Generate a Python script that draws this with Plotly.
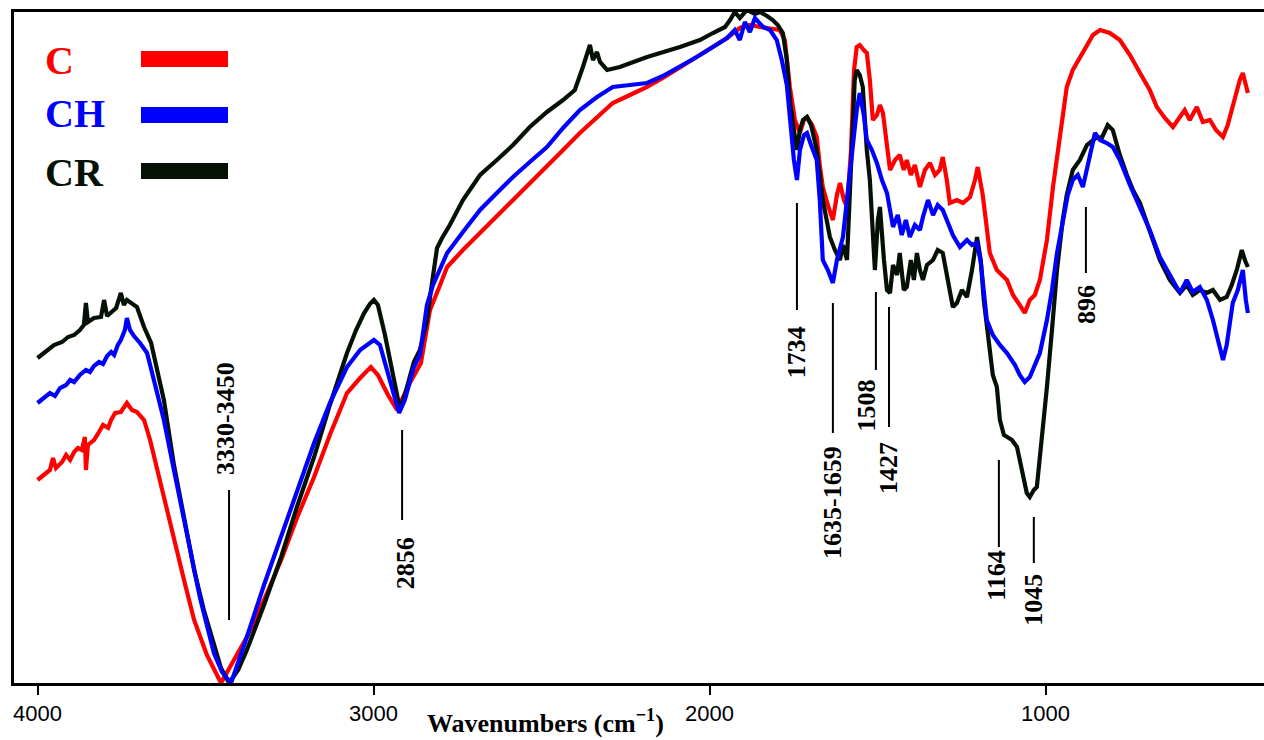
import plotly.graph_objects as go

# ---------------- data (wavenumber, cm-1 ; transmittance, a.u.) ----------------
wn_CR = [4000,3978,3951,3927,3909,3891,3874,3862,3856,3850,
         3832,3811,3802,3793,3781,3766,3752,3743,3734,3719,
         3704,3683,3662,3644,3624,3594,3564,3534,3505,3475,
         3454,3430,3403,3377,3326,3275,3228,3177,3130,3079,
         3052,3028,3011,2999,2987,2966,2945,2921,2907,2892,
         2880,2862,2841,2829,2811,2796,2773,2734,2683,2633,
         2585,2535,2484,2436,2401,2377,2362,2356,2347,2335,
         2326,2305,2267,2186,2088,2029,1990,1954,1939,1925,
         1910,1889,1865,1850,1829,1812,1797,1782,1770,1761,
         1749,1740,1731,1722,1710,1698,1681,1663,1642,1627,
         1612,1603,1591,1576,1568,1562,1553,1544,1532,1523,
         1514,1508,1499,1493,1481,1472,1463,1454,1442,1434,
         1422,1413,1401,1392,1383,1374,1365,1353,1335,1321,
         1306,1291,1276,1264,1249,1234,1219,1204,1193,1184,
         1175,1166,1157,1145,1136,1124,1115,1100,1085,1071,
         1056,1047,1035,1026,1011,996,981,966,949,937,
         919,898,877,859,847,833,815,800,779,758,
         740,719,690,660,630,600,580,562,541,520,
         502,481,461,446,431,416,407,398]
T_CR = [32.5,33.1,33.8,34.1,34.6,34.8,35.3,35.8,38.0,36.1,
        36.5,36.6,38.3,36.7,37.0,37.5,39.0,37.8,38.3,37.9,
        37.6,35.6,34.0,31.3,28.3,21.8,16.3,11.3,7.3,3.8,
        1.5,0.0,1.3,3.3,7.8,12.6,17.6,22.6,27.8,33.0,
        35.3,37.0,37.9,38.3,37.8,34.8,31.3,27.3,28.8,30.8,
        32.1,33.3,36.3,39.3,43.5,44.5,45.8,48.3,50.8,52.3,
        53.8,55.6,57.1,58.3,59.3,61.6,63.1,63.8,62.3,63.1,
        62.1,61.3,61.6,62.6,63.6,64.3,65.0,65.6,66.3,67.1,
        66.5,67.3,66.9,67.1,66.7,66.3,65.8,65.0,62.3,58.3,
        55.3,53.3,55.3,56.3,56.6,55.8,53.3,48.3,44.6,43.3,
        42.3,43.8,42.3,53.3,60.3,61.3,60.8,59.6,53.3,50.3,
        45.3,41.3,46.3,47.6,42.3,39.3,39.0,41.8,40.8,43.0,
        39.3,39.6,42.3,40.3,43.0,41.3,40.3,41.8,42.3,43.3,
        43.0,40.3,37.6,38.0,39.3,38.6,41.3,44.6,42.3,38.3,
        35.6,33.3,30.8,29.6,26.3,24.8,24.6,24.3,23.6,21.3,
        19.0,18.6,19.3,19.6,24.3,29.6,35.3,41.3,46.3,48.8,
        51.3,52.3,53.8,54.3,54.6,54.5,55.8,55.3,52.8,50.8,
        49.3,48.0,45.3,42.3,40.3,39.0,39.8,38.8,39.3,39.0,
        39.3,38.3,38.6,39.8,41.3,43.3,42.3,41.6]

wn_CH = [4000,3981,3963,3948,3933,3915,3903,3891,3874,3856,
         3844,3832,3817,3805,3793,3781,3772,3761,3752,3740,
         3734,3725,3713,3695,3674,3650,3624,3591,3555,3517,
         3475,3451,3424,3400,3377,3326,3275,3228,3177,3130,
         3079,3040,2999,2981,2957,2924,2907,2880,2862,2841,
         2823,2802,2781,2734,2683,2633,2585,2535,2484,2436,
         2386,2335,2288,2237,2186,2139,2088,2038,1990,1948,
         1925,1910,1895,1880,1865,1841,1820,1800,1785,1770,
         1761,1749,1740,1731,1719,1710,1698,1681,1672,1663,
         1648,1633,1621,1603,1588,1573,1562,1553,1541,1532,
         1517,1502,1487,1472,1454,1440,1428,1416,1404,1389,
         1374,1365,1350,1335,1321,1306,1291,1276,1255,1234,
         1219,1204,1193,1175,1157,1136,1115,1091,1077,1062,
         1047,1032,1017,996,981,966,949,934,919,904,
         889,874,853,838,818,800,779,749,719,690,
         660,630,600,580,562,541,520,502,487,472,
         461,443,428,413,404,398]
T_CH = [28.0,28.5,29.0,28.7,29.5,29.8,30.3,30.1,30.8,31.3,
        31.1,31.7,32.1,31.9,32.7,33.1,32.8,33.8,34.3,35.3,
        36.5,35.3,34.7,34.0,33.0,29.8,26.3,20.8,14.6,8.6,
        3.0,1.1,0.0,2.3,4.6,9.8,14.6,19.3,24.0,28.0,
        31.6,33.3,34.3,33.8,30.8,27.0,28.3,31.6,32.8,37.8,
        39.8,41.3,43.0,45.1,47.3,49.0,50.6,52.1,53.6,55.5,
        57.3,58.6,59.6,59.8,60.0,60.7,61.6,62.6,63.6,64.5,
        65.3,64.3,66.1,65.1,66.5,65.6,65.3,64.3,62.3,59.8,
        56.6,52.3,50.3,53.3,54.8,55.0,53.8,52.3,48.3,42.3,
        41.3,40.0,42.3,44.6,49.3,54.0,57.3,59.0,56.8,54.3,
        53.3,52.0,50.3,49.0,45.6,46.8,44.8,46.3,44.6,45.8,
        45.3,46.6,48.3,46.8,47.8,47.3,46.1,44.8,43.6,44.3,
        43.8,44.0,42.1,36.3,34.8,33.8,33.0,31.8,30.8,30.1,
        30.6,31.8,33.0,36.3,39.3,43.0,46.3,48.8,50.3,50.8,
        49.6,51.8,55.0,54.3,54.0,53.6,52.3,49.8,47.6,45.3,
        42.6,40.8,39.0,40.3,39.1,39.6,38.3,36.3,34.3,32.3,
        33.8,38.0,39.3,41.3,38.3,37.0]

wn_C = [4000,3981,3963,3954,3945,3927,3915,3903,3891,3880,
        3868,3859,3856,3850,3832,3817,3805,3790,3781,3769,
        3752,3734,3719,3704,3683,3665,3644,3621,3594,3564,
        3534,3496,3454,3415,3377,3326,3275,3228,3177,3130,
        3079,3040,3008,2987,2957,2930,2909,2892,2859,2832,
        2802,2781,2734,2683,2633,2585,2535,2484,2436,2386,
        2335,2288,2237,2186,2139,2088,2038,1990,1948,1910,
        1880,1850,1820,1791,1776,1761,1746,1731,1719,1710,
        1695,1681,1672,1663,1648,1633,1621,1612,1600,1591,
        1579,1570,1562,1553,1541,1532,1523,1514,1502,1493,
        1484,1472,1463,1448,1434,1422,1413,1401,1389,1374,
        1359,1344,1329,1315,1306,1294,1285,1264,1246,1225,
        1210,1202,1187,1166,1145,1115,1097,1077,1062,1047,
        1032,1017,996,978,958,937,919,898,877,859,
        838,809,779,749,719,690,669,645,621,600,
        586,571,550,532,511,493,472,458,443,431,
        422,413,404,398]
T_C = [20.3,20.8,21.3,22.5,21.5,22.1,22.8,22.3,23.1,23.5,
       23.3,24.6,21.3,23.8,24.3,25.1,25.8,25.5,26.3,27.0,
       27.1,28.0,27.3,27.1,26.3,24.3,21.3,18.3,14.6,10.3,
       6.3,2.8,0.0,2.3,4.6,8.3,12.3,16.5,20.6,24.8,
       29.0,30.5,31.6,30.8,28.8,27.3,28.8,30.0,32.0,37.3,
       39.8,41.6,43.3,45.0,46.6,48.3,50.0,51.6,53.3,55.0,
       56.5,58.0,58.8,59.6,60.5,61.6,62.6,63.6,64.5,65.5,
       65.8,65.6,65.5,65.3,64.3,59.6,56.3,55.0,56.3,56.6,
       55.8,54.6,51.8,49.6,47.8,46.3,48.8,50.0,48.3,47.6,
       53.3,61.3,63.6,63.8,63.3,63.0,60.3,56.3,56.8,57.8,
       57.0,53.3,51.3,52.3,52.8,51.3,52.3,50.8,51.8,49.6,
       51.3,52.0,50.8,51.3,52.6,50.3,48.0,48.3,48.0,48.6,
       50.3,51.6,48.8,43.0,41.3,40.3,38.8,37.8,37.0,38.3,
       38.8,40.3,44.3,49.6,54.8,59.6,61.3,62.6,63.8,64.8,
       65.3,65.0,64.3,62.8,61.0,59.3,57.6,56.5,55.6,56.6,
       57.3,56.3,57.6,56.1,56.3,55.3,54.6,55.8,57.8,59.0,
       60.3,61.0,59.8,59.0]

series_names = ["C", "CH", "CR"]
x_ticks = [4000, 3000, 2000, 1000]

# band assignments: label, marker wavenumber, marker T range
band_labels = ["3330-3450", "2856", "1734", "1635-1659", "1508", "1427", "1164", "1045", "896"]
band_marker_wn = [3430, 2915, 1740, 1633, 1505, 1466, 1139, 1035, 880]
band_marker_lo = [6.3, 16.3, 37.3, 25.0, 31.3, 25.6, 13.6, 12.0, 41.0]
band_marker_hi = [19.3, 25.3, 48.0, 38.0, 39.1, 37.6, 22.3, 16.6, 47.6]

for a, b in [(wn_CR, T_CR), (wn_CH, T_CH), (wn_C, T_C)]:
    assert len(a) == len(b), (len(a), len(b))

# ---------------- styling ----------------
colors = {"C": "#ff0000", "CH": "#0000ff", "CR": "#061106"}
serif = "Liberation Serif, Times New Roman, serif"
sans = "Liberation Sans, Arial, sans-serif"

# label placement (wn, T) next to each marker line
label_pos = [(3442, 26.4), (2906, 12.0), (1742, 33.1), (1636, 18.1), (1533, 27.8),
             (1469, 21.5), (1148, 10.8), (1038, 8.3), (880, 37.9)]

fig = go.Figure()
data = {"C": (wn_C, T_C), "CH": (wn_CH, T_CH), "CR": (wn_CR, T_CR)}
for name in ["C", "CR", "CH"]:
    x, y = data[name]
    fig.add_trace(go.Scatter(x=x, y=y, mode="lines", name=name,
                             line=dict(color=colors[name], width=4.2),
                             showlegend=False, hoverinfo="skip"))

shapes = []
annotations = []
for lab, xw, lo, hi, (lx, ly) in zip(band_labels, band_marker_wn, band_marker_lo,
                                     band_marker_hi, label_pos):
    shapes.append(dict(type="line", xref="x", yref="y", x0=xw, x1=xw, y0=lo, y1=hi,
                       line=dict(color="black", width=2)))
    annotations.append(dict(x=lx, y=ly, xref="x", yref="y", text=lab, showarrow=False,
                            textangle=-90, xanchor="center", yanchor="middle",
                            font=dict(family=serif, size=26, color="black", weight="bold")))

# legend drawn as text + coloured bars (paper coordinates)
leg_rows = [("C", 0.927, 0.9180, 0.9419), ("CH", 0.848, 0.8346, 0.8584), ("CR", 0.7615, 0.7511, 0.7750)]
for name, ty, by0, by1 in leg_rows:
    annotations.append(dict(x=0.0232, y=ty, xref="paper", yref="paper", text=name,
                            showarrow=False, xanchor="left", yanchor="middle",
                            font=dict(family=serif, size=40, color=colors[name], weight="bold")))
    shapes.append(dict(type="rect", xref="paper", yref="paper", x0=0.1016, x1=0.1712,
                       y0=by0, y1=by1, fillcolor=colors[name], line=dict(width=0)))

annotations.append(dict(x=0.4248, y=-0.0575, xref="paper", yref="paper",
                        text="Wavenumbers (cm<sup>\u22121</sup>)", showarrow=False,
                        xanchor="center", yanchor="middle",
                        font=dict(family=serif, size=26, color="black", weight="bold")))

fig.update_layout(
    width=1264, height=740,
    margin=dict(l=14, r=0, t=12, b=57, pad=0),
    paper_bgcolor="white", plot_bgcolor="white",
    shapes=shapes, annotations=annotations,
    xaxis=dict(range=[4070, 350], tickvals=x_ticks, ticktext=[str(v) for v in x_ticks],
               ticks="outside", ticklen=9, tickwidth=2, tickcolor="black",
               showline=True, linewidth=3, linecolor="black", mirror=True,
               showgrid=False, zeroline=False,
               tickfont=dict(family=sans, size=22, color="black")),
    yaxis=dict(range=[0, 67.1], showticklabels=False, ticks="",
               showline=True, linewidth=3, linecolor="black", mirror=False,
               showgrid=False, zeroline=False),
)

fig.write_html("out.html", config={"displayModeBar": False},
               post_script="document.body.style.margin='0px';document.body.style.overflow='hidden';")
